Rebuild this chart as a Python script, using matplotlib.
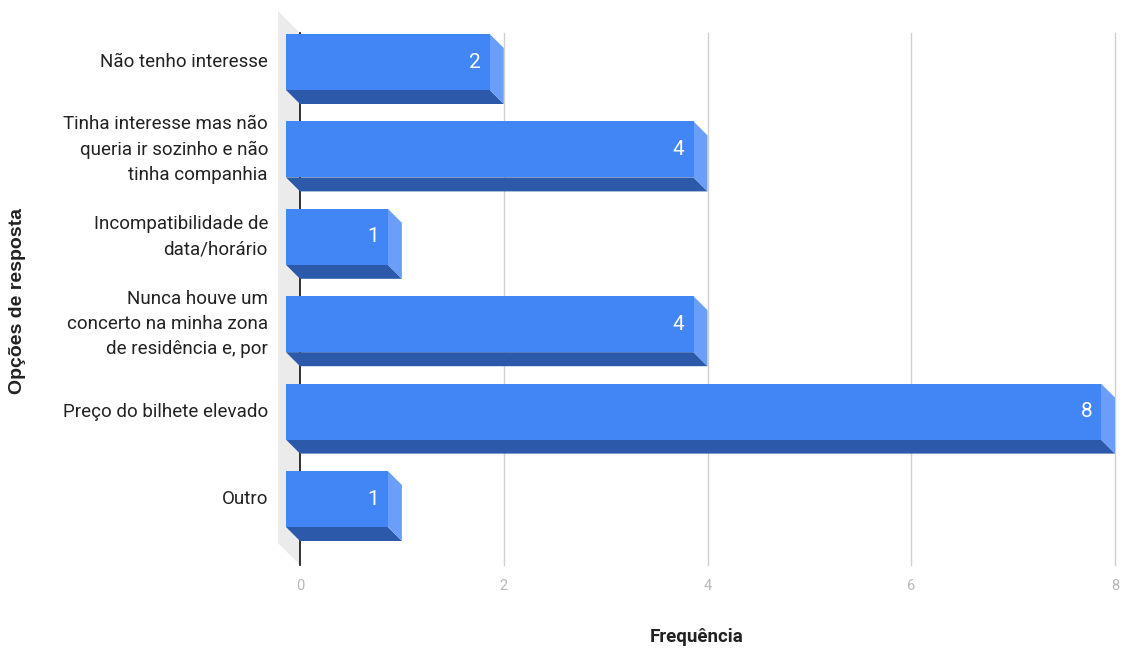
import matplotlib
matplotlib.use("Agg")
import matplotlib.pyplot as plt
from matplotlib.patches import Polygon, Rectangle

categories = [
    "Não tenho interesse",
    "Tinha interesse mas não\nqueria ir sozinho e não\ntinha companhia",
    "Incompatibilidade de\ndata/horário",
    "Nunca houve um\nconcerto na minha zona\nde residência e, por",
    "Preço do bilhete elevado",
    "Outro",
]
values = [2, 4, 1, 4, 8, 1]
x_ticks = [0, 2, 4, 6, 8]

W, H = 1122, 648
fig = plt.figure(figsize=(W / 100, H / 100), dpi=100)

# plot area in pixels (back plane of the 3D box)
left_px, right_px, top_px, bottom_px = 300, 1115, 33, 565
ax = fig.add_axes([left_px / W, 1 - bottom_px / H,
                   (right_px - left_px) / W, (bottom_px - top_px) / H])

xmax = 8
px_per_x = (right_px - left_px) / xmax
px_per_cat = 87.4
first_center_px = 76
ax.set_xlim(0, xmax)
ax.set_ylim((bottom_px - first_center_px) / px_per_cat,
            -(first_center_px - top_px) / px_per_cat)

depth_px = 14
dx = depth_px / px_per_x
dy = depth_px / px_per_cat
bar_h = 56 / px_per_cat

front_c = "#4285F4"
bottom_c = "#2C59A9"
side_c = "#6A9EF8"
wall_c = "#EBEBEB"

# side wall on the left
wall_depth = 22
wdx = wall_depth / px_per_x
wdy = wall_depth / px_per_cat
y0, y1 = ax.get_ylim()[1], ax.get_ylim()[0]
ax.add_patch(Polygon([(-wdx, y0 - wdy), (0, y0), (0, y1), (-wdx, y1 - wdy)],
                     closed=True, facecolor=wall_c, edgecolor="none",
                     clip_on=False, zorder=0))

# grid lines and axis line
for t in x_ticks[1:]:
    ax.plot([t, t], [y0, y1], color="#D0D0D0", lw=1.0, zorder=1, clip_on=False)
ax.plot([0, 0], [y0, y1], color="#222222", lw=1.3, zorder=1, clip_on=False)

for i, v in enumerate(values):
    top = i - bar_h / 2
    bot = i + bar_h / 2
    # bottom face
    ax.add_patch(Polygon([(-dx, bot - dy), (v - dx, bot - dy), (v, bot), (0, bot)],
                         closed=True, facecolor=bottom_c, edgecolor="none",
                         zorder=3, clip_on=False))
    # side face
    ax.add_patch(Polygon([(v - dx, top - dy), (v, top), (v, bot), (v - dx, bot - dy)],
                         closed=True, facecolor=side_c, edgecolor="none",
                         zorder=3, clip_on=False))
    # front face
    ax.add_patch(Rectangle((-dx, top - dy), v, bar_h, facecolor=front_c,
                           edgecolor="none", zorder=4, clip_on=False))
    ax.text(v - dx - 9 / px_per_x, i - dy, str(v), color="white",
            fontsize=15, family="Roboto", ha="right", va="center", zorder=5)
    ax.text(-(left_px - 268) / px_per_x, i - dy, categories[i], color="#222222",
            fontsize=13.5, family="Roboto", ha="right", va="center",
            linespacing=1.5, zorder=5)

ax.set_xticks([])
ax.set_yticks([])
for s in ax.spines.values():
    s.set_visible(False)
ax.patch.set_visible(False)

for t in x_ticks:
    ax.text(t, y1 + 21 / px_per_cat, str(t), color="#B7B7B7", fontsize=10.5,
            family="Roboto", ha="center", va="center")

fig.text(697 / W, 1 - 637 / H, "Frequência", fontsize=13.5, family="Roboto",
         fontweight="bold", ha="center", va="center", color="#222222")
fig.text(18 / W, 1 - 301 / H, "Opções de resposta", fontsize=14,
         family="Liberation Sans", fontweight="bold", rotation=90,
         ha="center", va="center", color="#222222")

fig.savefig("out.png", dpi=100, facecolor="white")
